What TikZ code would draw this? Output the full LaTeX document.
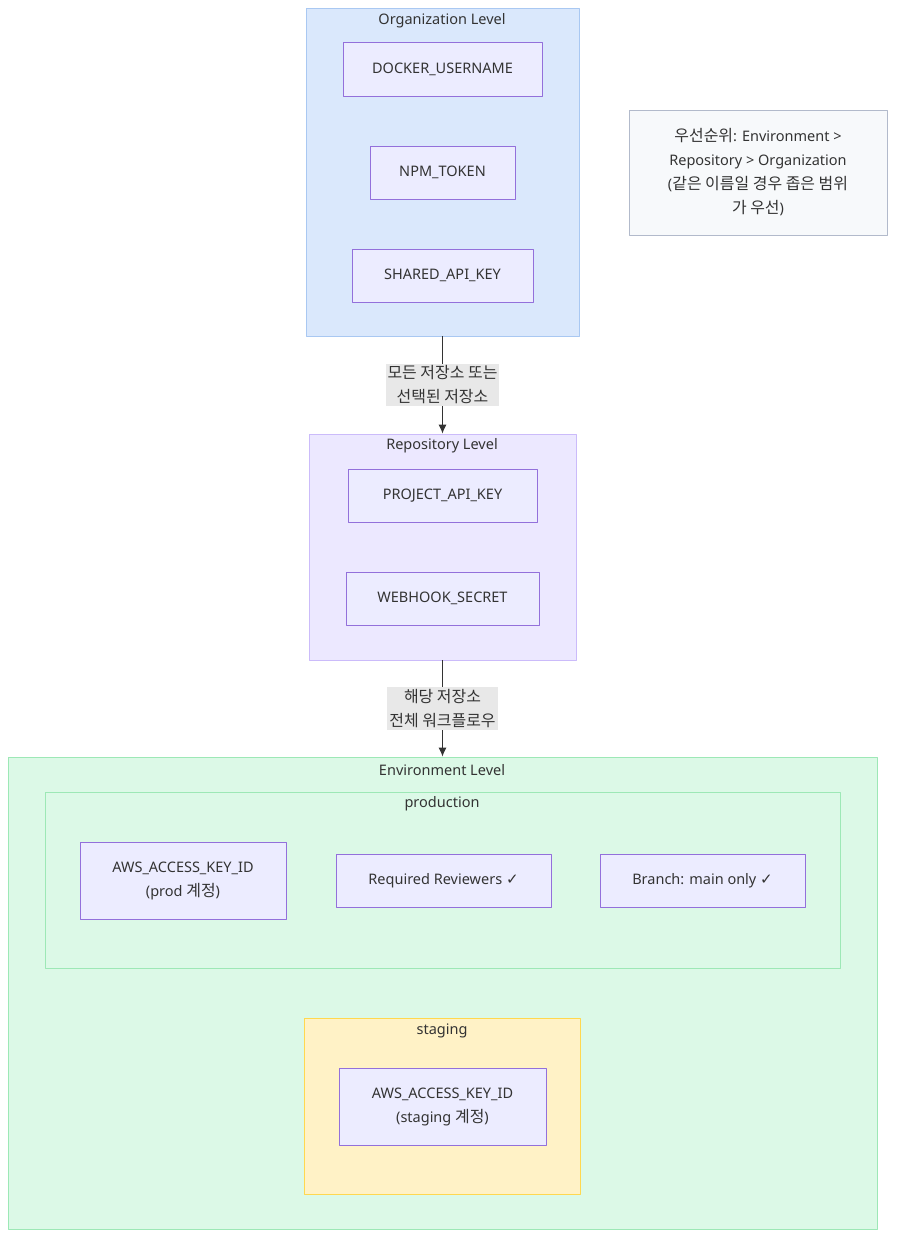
\documentclass[tikz,border=0pt]{standalone}
\usepackage{fontspec}
\setmainfont{Noto Sans}
\newfontfamily\kr[Scale=1.1]{Noto Sans CJK KR}
\newfontfamily\sym{DejaVu Sans}
\usetikzlibrary{arrows.meta}

\definecolor{orgfill}{HTML}{DAE8FC}
\definecolor{orgline}{HTML}{A9C8F2}
\definecolor{repofill}{HTML}{ECE8FF}
\definecolor{repoline}{HTML}{CBBBFA}
\definecolor{envfill}{HTML}{DCF9E7}
\definecolor{envline}{HTML}{9DE8B6}
\definecolor{stgfill}{HTML}{FFF2C6}
\definecolor{stgline}{HTML}{FFD84F}
\definecolor{keyfill}{HTML}{ECECFF}
\definecolor{keyline}{HTML}{9370DB}
\definecolor{notefill}{HTML}{F7F9FB}
\definecolor{noteline}{HTML}{B2BACB}
\definecolor{lblfill}{HTML}{E8E8E8}
\definecolor{txtgray}{HTML}{333333}

\begin{document}
\begin{tikzpicture}[x=1pt,y=-1pt,line join=round,
	every node/.style={font=\fontsize{14.5}{24}\selectfont,text=txtgray,align=center},
	keybox/.style={draw=keyline,fill=keyfill,line width=0.8pt,inner sep=0pt},
	grpbox/.style={line width=0.8pt,inner sep=0pt},
	edgelbl/.style={fill=lblfill,inner xsep=2pt,inner ysep=2pt},
	link/.style={draw=txtgray,line width=1pt,-{Latex[length=9pt,width=8pt]}}]
	\useasboundingbox (0,0) rectangle (903,1248);
	
	% Organization Level
	\node[grpbox,draw=orgline,fill=orgfill,minimum width=273pt,minimum height=328pt] (org) at (442.5,172) {};
	\node (orgtitle) at (442,21) {Organization Level};
	\node[keybox,minimum width=199pt,minimum height=54pt] (docker) at (442.5,69) {DOCKER\_USERNAME};
	\node[keybox,minimum width=145pt,minimum height=53pt] (npm) at (442.5,172.5) {NPM\_TOKEN};
	\node[keybox,minimum width=181pt,minimum height=53pt] (shared) at (442.5,275.5) {SHARED\_API\_KEY};
	
	% note
	\node[draw=noteline,fill=notefill,line width=0.8pt,minimum width=258pt,minimum height=125pt] (note) at (758,172.5)
	{{\kr 우선순위}: Environment >\\Repository > Organization\\({\kr 같은 이름일 경우 좁은 범위}\\{\kr 가 우선})};
	
	% Repository Level
	\node[grpbox,draw=repoline,fill=repofill,minimum width=267pt,minimum height=226pt] (repo) at (442.5,547) {};
	\node (repotitle) at (442,446) {Repository Level};
	\node[keybox,minimum width=189pt,minimum height=53pt] (project) at (442.5,495.5) {PROJECT\_API\_KEY};
	\node[keybox,minimum width=193pt,minimum height=53pt] (webhook) at (442.5,598.5) {WEBHOOK\_SECRET};
	
	% Environment Level
	\node[grpbox,draw=envline,fill=envfill,minimum width=869pt,minimum height=472pt] (env) at (442.5,993) {};
	\node (envtitle) at (442,770) {Environment Level};
	
	%production
	\node[grpbox,draw=envline,fill=envfill,minimum width=795pt,minimum height=176pt] (prod) at (442.5,880) {};
	\node (prodtitle) at (442,804) {production};
	\node[keybox,minimum width=206pt,minimum height=77pt] (awsprod) at (183,880.5) {AWS\_ACCESS\_KEY\_ID\\(prod {\kr 계정})};
	\node[keybox,minimum width=215pt,minimum height=53pt] (review) at (443.5,880.5) {Required Reviewers {\sym\fontsize{15}{24}\selectfont ✓}};
	\node[keybox,minimum width=205pt,minimum height=53pt] (branch) at (702.5,880.5) {Branch: main only {\sym\fontsize{15}{24}\selectfont ✓}};
	
	%staging
	\node[grpbox,draw=stgline,fill=stgfill,minimum width=276pt,minimum height=176pt] (stg) at (442,1106) {};
	\node (stgtitle) at (442,1031) {staging};
	\node[keybox,minimum width=207pt,minimum height=77pt] (awsstg) at (442.5,1106.5) {AWS\_ACCESS\_KEY\_ID\\(staging {\kr 계정})};
	
	% arrows
	\draw[link] (org.south) -- (repo.north) node[edgelbl,midway] (lblone) {{\kr 모든 저장소 또는}\\{\kr 선택된 저장소}};
	\draw[link] (repo.south) -- (env.north) node[edgelbl,midway] (lbltwo) {{\kr 해당 저장소}\\{\kr 전체 워크플로우}};
\end{tikzpicture}
\end{document}
